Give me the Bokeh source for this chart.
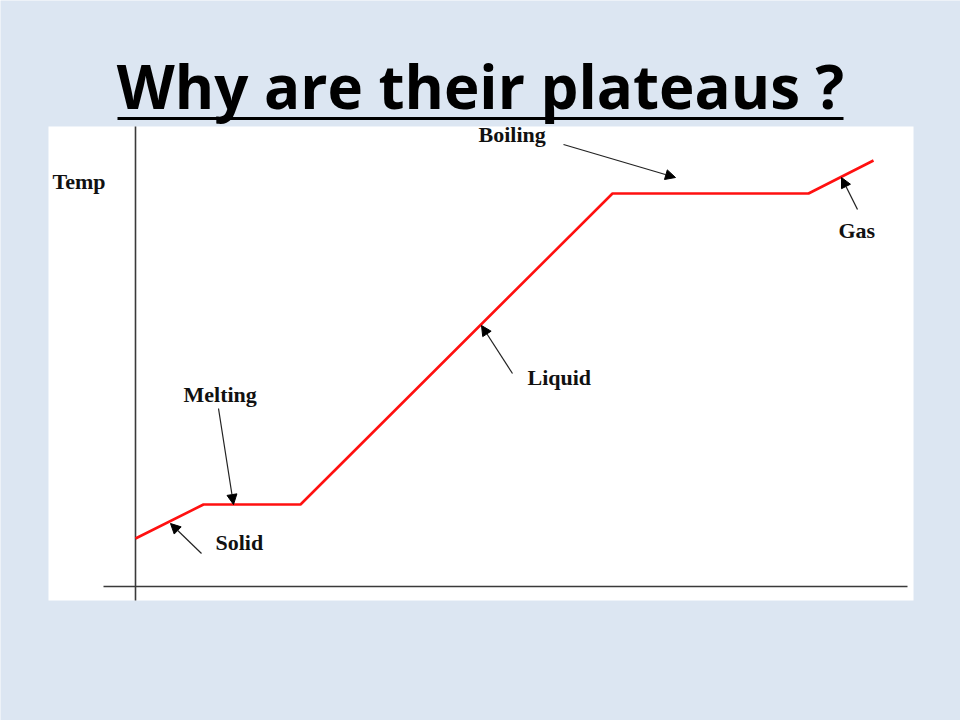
from bokeh.plotting import figure
from bokeh.models import Range1d, ColumnDataSource, Arrow, NormalHead
from bokeh.core.properties import value
from bokeh.embed import file_html
from bokeh.resources import INLINE

# ---- data (arbitrary units: time vs temperature) ----
time = [0, 6.8, 16.5, 47.7, 67.3, 73.8]
temp = [4.8, 8.2, 8.2, 39.3, 39.3, 42.6]

title_text = "Why are their plateaus ?"
label_texts = ["Temp", "Boiling", "Melting", "Solid", "Liquid", "Gas"]

# ---- layout helpers (page pixel -> data units) ----
ORIGIN_X, ORIGIN_Y, PPU = 135, 586, 10.0
def px(x):
    return (x - ORIGIN_X) / PPU
def py(y):
    return (ORIGIN_Y - y) / PPU

W, H = 960, 720
BG = "#dce6f2"

p = figure(width=W, height=H, output_backend="svg", toolbar_location=None,
           x_range=Range1d(px(0), px(W)), y_range=Range1d(py(H), py(0)),
           min_border=0, background_fill_color=BG, border_fill_color=BG,
           outline_line_color=None)
p.axis.visible = False
p.grid.visible = False

# white picture panel
p.quad(left=[px(48)], right=[px(913)], top=[py(126)], bottom=[py(600)],
       fill_color="white", line_color=None)

# axes lines
p.segment(x0=[0, px(103)], y0=[py(126), 0], x1=[0, px(907)], y1=[py(600), 0],
          line_color="#3a3a3a", line_width=1.6)

# heating curve
p.line(time, temp, line_color="#ff1010", line_width=2.6)

# labels
lab_x = [px(52), px(478), px(183), px(215), px(527), px(838)]
lab_y = [py(181), py(134), py(394), py(542), py(377), py(230)]
p.text(x=lab_x, y=lab_y, text=label_texts, text_font=value("Liberation Serif"),
       text_font_style="bold", text_font_size="22px", text_color="#111111",
       text_baseline="middle", text_align="left")

# arrows
arr = ColumnDataSource(dict(
    xs=[px(218), px(201), px(563), px(857), px(512)],
    ys=[py(408), py(553), py(144), py(209), py(373)],
    xe=[px(233), px(170), px(675), px(841), px(481)],
    ye=[py(504), py(523), py(177), py(177), py(325)],
))
p.add_layout(Arrow(end=NormalHead(size=10, fill_color="black", line_color="black"),
                   x_start="xs", y_start="ys", x_end="xe", y_end="ye", source=arr,
                   line_color="#222222", line_width=1.2))

# title with underline
p.text(x=[px(480)], y=[py(85)], text=[title_text], text_font=value("Open Sans"),
       text_font_style="bold", text_font_size="60px", text_color="black",
       text_align="center", text_baseline="alphabetic")
p.segment(x0=[px(117)], y0=[py(118)], x1=[px(843)], y1=[py(118)],
          line_color="black", line_width=3)

html = file_html(p, INLINE)
html = html.replace("<body>", '<body style="background-color:%s;">' % BG, 1)
open("out.html", "w").write(html)
